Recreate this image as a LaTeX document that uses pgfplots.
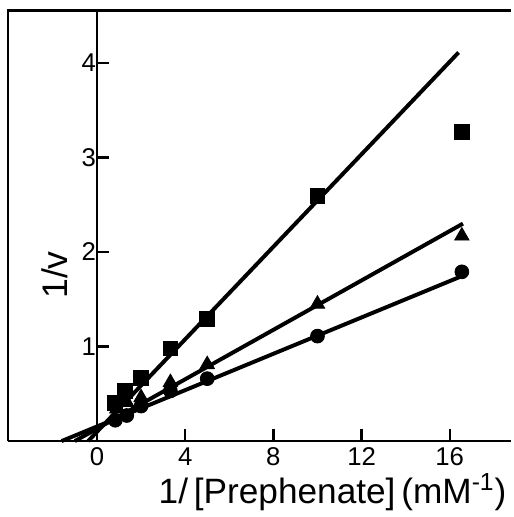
\documentclass[border=0pt]{standalone}
\usepackage{fontspec}
\setmainfont{Liberation Sans}
\usepackage{pgfplots}
\pgfplotsset{compat=1.18}
\begin{document}
\begin{tikzpicture}
\begin{axis}[
  scale only axis, width=254.5pt, height=217.5pt,
  xmin=-4.04, xmax=18.79, ymin=0, ymax=4.55,
  axis x line=bottom, axis y line=middle,
  axis line style={-, line width=1.4pt},
  xtick={0,4,8,12,16}, ytick={1,2,3,4},
  tick style={line width=1.2pt, black},
  major tick length=6pt,
  xtick align=inside, ytick align=center,
  ytick style={xshift=3pt},
  ticklabel style={font=\fontsize{13}{15}\selectfont},
  yticklabel style={xshift=6pt},
  /pgf/number format/assume math mode=true,
  xlabel={1/\,[Prephenate]\,(mM\textsuperscript{-1})},
  ylabel={1/v},
  every axis x label/.style={at={(rel axis cs:0.645,0)}, anchor=north, yshift=-13pt, font=\fontsize{17.8}{19}\selectfont},
  every axis y label/.style={at={(rel axis cs:0.094,0.386)}, anchor=center, rotate=90, font=\fontsize{18}{20}\selectfont},
  clip=false,
]
% fitted lines
\addplot[black, line width=2pt] coordinates {(-0.4,0) (16.4,4.11)};
\addplot[black, line width=2pt] coordinates {(-1.0,0) (16.6,2.30)};
\addplot[black, line width=2pt] coordinates {(-1.6,0) (16.5,1.74)};
% data
\addplot[only marks, mark=square*, mark size=3.75pt, black] coordinates {
(0.83,0.40) (1.25,0.53) (2.0,0.67) (3.33,0.98) (5.0,1.29) (10,2.59) (16.55,3.27)};
\addplot[only marks, mark=triangle*, mark size=4.2pt, black] coordinates {
(0.9,0.34) (1.35,0.41) (2.0,0.46) (3.33,0.62) (5.0,0.81) (10,1.45) (16.55,2.17)};
\addplot[only marks, mark=*, mark size=3.5pt, black] coordinates {
(0.83,0.22) (1.35,0.27) (2.0,0.37) (3.33,0.53) (5.0,0.66) (10,1.11) (16.55,1.79)};
\end{axis}
\draw[line width=1.4pt] (current axis.south west) -- (current axis.north west) -- (current axis.north east);
\path (current axis.north west) ++(-4pt,5.5pt);
\end{tikzpicture}
\end{document}
